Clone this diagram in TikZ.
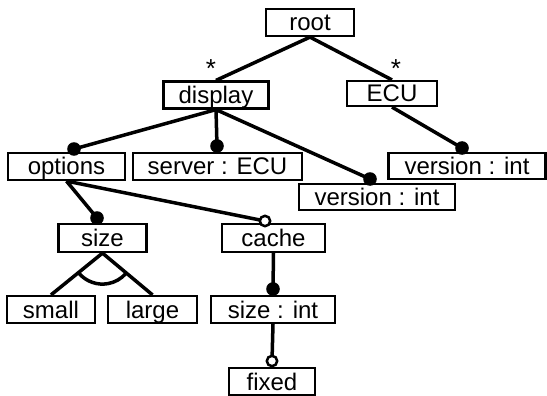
\documentclass[tikz,border=0pt]{standalone}
\usepackage{fontspec}
\setmainfont{Liberation Sans}
\begin{document}
\begin{tikzpicture}[x=1pt,y=1pt,
  fbox/.style={draw=black, line width=2.2pt, inner sep=0pt, text height=17pt, text depth=0pt,
    font=\fontsize{24}{28}\selectfont},
  conn/.style={line width=3.5pt, line cap=butt},
  cdot/.style={fill=black},
  odot/.style={draw=black, fill=white, line width=2.5pt},
  card/.style={inner sep=0pt, font=\fontsize{26}{30}\selectfont}]
\useasboundingbox (0,0) rectangle (547,-396);

% nodes
\node[fbox, minimum width=88pt, minimum height=27pt] (root) at (310,-22.5) {root};
\node[fbox, minimum width=105pt, minimum height=27pt] (display) at (216,-95) {display};
\node[fbox, minimum width=90pt, minimum height=25pt] (ecu) at (392,-93.5) {ECU};
\node[fbox, minimum width=117pt, minimum height=27pt] (options) at (66.5,-166.5) {options};
\node[fbox, minimum width=169pt, minimum height=27pt] (server) at (217.5,-166.5) {server : ECU};
\node[fbox, minimum width=157pt, minimum height=26pt] (verR) at (467,-166) {version : int};
\node[fbox, minimum width=156pt, minimum height=26pt] (verM) at (377,-197) {version : int};
\node[fbox, minimum width=88pt, minimum height=28pt] (size) at (102.5,-238) {size};
\node[fbox, minimum width=103pt, minimum height=28pt] (cache) at (273.5,-238) {cache};
\node[fbox, minimum width=88pt, minimum height=27pt] (small) at (51,-309.5) {small};
\node[fbox, minimum width=89pt, minimum height=27pt] (large) at (152.5,-309.5) {large};
\node[fbox, minimum width=124pt, minimum height=27pt] (sizeint) at (273,-309.5) {size : int};
\node[fbox, minimum width=86pt, minimum height=27pt] (fixed) at (272,-381.5) {fixed};

% cardinality stars
\node[card] (s1) at (211,-69) {*};
\node[card] (s2) at (396,-69) {*};

% dot coordinates
\coordinate (dOpt) at (74,-149);
\coordinate (dSrv) at (217,-146);
\coordinate (dVerM) at (370,-179);
\coordinate (dVerR) at (462,-148);
\coordinate (dSize) at (97,-218);
\coordinate (dSizeInt) at (273,-289);
\coordinate (oCache) at (265,-221);
\coordinate (oFixed) at (272,-361);

% connectors
\draw[conn] (root.south) -- (display.north);
\draw[conn] (root.south) -- (ecu.north);
\draw[conn] (display.south) -- (dOpt);
\draw[conn] (display.south) -- (dSrv);
\draw[conn] (display.south) -- (dVerM);
\draw[conn] (ecu.south) -- (dVerR);
\draw[conn] (options.south) -- (dSize);
\draw[conn] (options.south) -- (oCache);
\draw[conn] (size.south) -- (small.north);
\draw[conn] (size.south) -- (large.north);
\draw[conn] ([shift={(220.5:31pt)}]size.south) arc[start angle=220.5, end angle=318.7, radius=31pt];
\draw[conn] (cache.south) -- (dSizeInt);
\draw[conn] (sizeint.south) -- (oFixed);

% dots
\foreach \p in {dOpt,dSrv,dVerM,dVerR,dSize,dSizeInt}
  \fill[cdot] (\p) circle (6.8pt);
\foreach \p in {oCache,oFixed}
  \draw[odot] (\p) circle (5.2pt);
\end{tikzpicture}
\end{document}
